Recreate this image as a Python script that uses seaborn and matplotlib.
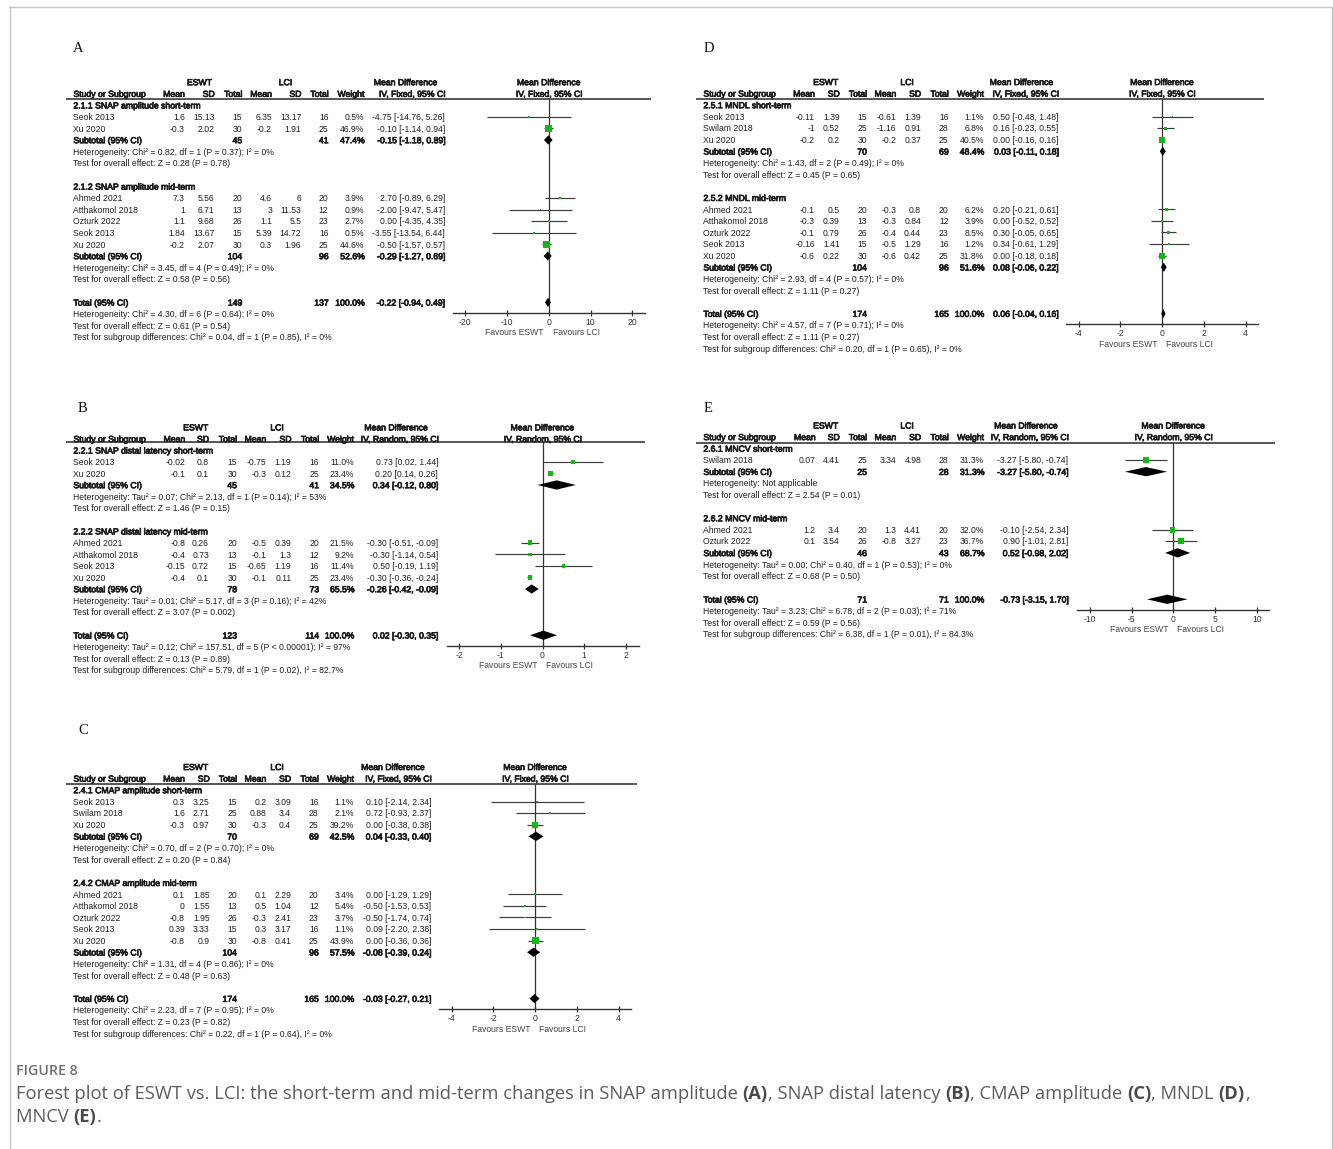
import matplotlib
matplotlib.use("Agg")
import matplotlib.pyplot as plt
import matplotlib.patheffects as pe
from matplotlib.lines import Line2D
import numpy as np
import seaborn as sns

# ---------------------------------------------------------------- data
# A: SNAP amplitude (IV, fixed)
A_groups = ["2.1.1 SNAP amplitude short-term", "2.1.2 SNAP amplitude mid-term"]
A_study = ["Seok 2013", "Xu 2020", "Ahmed 2021", "Atthakomol 2018", "Ozturk 2022", "Seok 2013", "Xu 2020"]
A_member = [0, 0, 1, 1, 1, 1, 1]
A_e_mean = [1.6, -0.3, 7.3, 1, 1.1, 1.84, -0.2]
A_e_sd = [15.13, 2.02, 5.56, 6.71, 9.68, 13.67, 2.07]
A_e_n = [15, 30, 20, 13, 26, 15, 30]
A_l_mean = [6.35, -0.2, 4.6, 3, 1.1, 5.39, 0.3]
A_l_sd = [13.17, 1.91, 6, 11.53, 5.5, 14.72, 1.96]
A_l_n = [16, 25, 20, 12, 23, 16, 25]
A_weight = [0.5, 46.9, 3.9, 0.9, 2.7, 0.5, 44.6]
A_md = [-4.75, -0.10, 2.70, -2.00, 0.00, -3.55, -0.50]
A_lo = [-14.76, -1.14, -0.89, -9.47, -4.35, -13.54, -1.57]
A_hi = [5.26, 0.94, 6.29, 5.47, 4.35, 6.44, 0.57]
A_sub_e_n = [45, 104]
A_sub_l_n = [41, 96]
A_sub_weight = [47.4, 52.6]
A_sub_md = [-0.15, -0.29]
A_sub_lo = [-1.18, -1.27]
A_sub_hi = [0.89, 0.69]
A_sub_het = ["Heterogeneity: Chi² = 0.82, df = 1 (P = 0.37); I² = 0%",
             "Heterogeneity: Chi² = 3.45, df = 4 (P = 0.49); I² = 0%"]
A_sub_z = ["Test for overall effect: Z = 0.28 (P = 0.78)",
           "Test for overall effect: Z = 0.58 (P = 0.56)"]
A_total = [149, 137, 100.0, -0.22, -0.94, 0.49]
A_notes = ["Heterogeneity: Chi² = 4.30, df = 6 (P = 0.64); I² = 0%",
           "Test for overall effect: Z = 0.61 (P = 0.54)",
           "Test for subgroup differences: Chi² = 0.04, df = 1 (P = 0.85), I² = 0%"]
A_ticks = [-20, -10, 0, 10, 20]

# B: SNAP distal latency (IV, random)
B_groups = ["2.2.1 SNAP distal latency short-term", "2.2.2 SNAP distal latency mid-term"]
B_study = ["Seok 2013", "Xu 2020", "Ahmed 2021", "Atthakomol 2018", "Seok 2013", "Xu 2020"]
B_member = [0, 0, 1, 1, 1, 1]
B_e_mean = [-0.02, -0.1, -0.8, -0.4, -0.15, -0.4]
B_e_sd = [0.8, 0.1, 0.26, 0.73, 0.72, 0.1]
B_e_n = [15, 30, 20, 13, 15, 30]
B_l_mean = [-0.75, -0.3, -0.5, -0.1, -0.65, -0.1]
B_l_sd = [1.19, 0.12, 0.39, 1.3, 1.19, 0.11]
B_l_n = [16, 25, 20, 12, 16, 25]
B_weight = [11.0, 23.4, 21.5, 9.2, 11.4, 23.4]
B_md = [0.73, 0.20, -0.30, -0.30, 0.50, -0.30]
B_lo = [0.02, 0.14, -0.51, -1.14, -0.19, -0.36]
B_hi = [1.44, 0.26, -0.09, 0.54, 1.19, -0.24]
B_sub_e_n = [45, 78]
B_sub_l_n = [41, 73]
B_sub_weight = [34.5, 65.5]
B_sub_md = [0.34, -0.26]
B_sub_lo = [-0.12, -0.42]
B_sub_hi = [0.80, -0.09]
B_sub_het = ["Heterogeneity: Tau² = 0.07; Chi² = 2.13, df = 1 (P = 0.14); I² = 53%",
             "Heterogeneity: Tau² = 0.01; Chi² = 5.17, df = 3 (P = 0.16); I² = 42%"]
B_sub_z = ["Test for overall effect: Z = 1.46 (P = 0.15)",
           "Test for overall effect: Z = 3.07 (P = 0.002)"]
B_total = [123, 114, 100.0, 0.02, -0.30, 0.35]
B_notes = ["Heterogeneity: Tau² = 0.12; Chi² = 157.51, df = 5 (P < 0.00001); I² = 97%",
           "Test for overall effect: Z = 0.13 (P = 0.89)",
           "Test for subgroup differences: Chi² = 5.79, df = 1 (P = 0.02), I² = 82.7%"]
B_ticks = [-2, -1, 0, 1, 2]

# C: CMAP amplitude (IV, fixed)
C_groups = ["2.4.1 CMAP amplitude short-term", "2.4.2 CMAP amplitude mid-term"]
C_study = ["Seok 2013", "Swilam 2018", "Xu 2020", "Ahmed 2021", "Atthakomol 2018", "Ozturk 2022", "Seok 2013", "Xu 2020"]
C_member = [0, 0, 0, 1, 1, 1, 1, 1]
C_e_mean = [0.3, 1.6, -0.3, 0.1, 0, -0.8, 0.39, -0.8]
C_e_sd = [3.25, 2.71, 0.97, 1.85, 1.55, 1.95, 3.33, 0.9]
C_e_n = [15, 25, 30, 20, 13, 26, 15, 30]
C_l_mean = [0.2, 0.88, -0.3, 0.1, 0.5, -0.3, 0.3, -0.8]
C_l_sd = [3.09, 3.4, 0.4, 2.29, 1.04, 2.41, 3.17, 0.41]
C_l_n = [16, 28, 25, 20, 12, 23, 16, 25]
C_weight = [1.1, 2.1, 39.2, 3.4, 5.4, 3.7, 1.1, 43.9]
C_md = [0.10, 0.72, 0.00, 0.00, -0.50, -0.50, 0.09, 0.00]
C_lo = [-2.14, -0.93, -0.38, -1.29, -1.53, -1.74, -2.20, -0.36]
C_hi = [2.34, 2.37, 0.38, 1.29, 0.53, 0.74, 2.38, 0.36]
C_sub_e_n = [70, 104]
C_sub_l_n = [69, 96]
C_sub_weight = [42.5, 57.5]
C_sub_md = [0.04, -0.08]
C_sub_lo = [-0.33, -0.39]
C_sub_hi = [0.40, 0.24]
C_sub_het = ["Heterogeneity: Chi² = 0.70, df = 2 (P = 0.70); I² = 0%",
             "Heterogeneity: Chi² = 1.31, df = 4 (P = 0.86); I² = 0%"]
C_sub_z = ["Test for overall effect: Z = 0.20 (P = 0.84)",
           "Test for overall effect: Z = 0.48 (P = 0.63)"]
C_total = [174, 165, 100.0, -0.03, -0.27, 0.21]
C_notes = ["Heterogeneity: Chi² = 2.23, df = 7 (P = 0.95); I² = 0%",
           "Test for overall effect: Z = 0.23 (P = 0.82)",
           "Test for subgroup differences: Chi² = 0.22, df = 1 (P = 0.64), I² = 0%"]
C_ticks = [-4, -2, 0, 2, 4]

# D: MNDL (IV, fixed)
D_groups = ["2.5.1 MNDL short-term", "2.5.2 MNDL mid-term"]
D_study = ["Seok 2013", "Swilam 2018", "Xu 2020", "Ahmed 2021", "Atthakomol 2018", "Ozturk 2022", "Seok 2013", "Xu 2020"]
D_member = [0, 0, 0, 1, 1, 1, 1, 1]
D_e_mean = [-0.11, -1, -0.2, -0.1, -0.3, -0.1, -0.16, -0.6]
D_e_sd = [1.39, 0.52, 0.2, 0.5, 0.39, 0.79, 1.41, 0.22]
D_e_n = [15, 25, 30, 20, 13, 26, 15, 30]
D_l_mean = [-0.61, -1.16, -0.2, -0.3, -0.3, -0.4, -0.5, -0.6]
D_l_sd = [1.39, 0.91, 0.37, 0.8, 0.84, 0.44, 1.29, 0.42]
D_l_n = [16, 28, 25, 20, 12, 23, 16, 25]
D_weight = [1.1, 6.8, 40.5, 6.2, 3.9, 8.5, 1.2, 31.8]
D_md = [0.50, 0.16, 0.00, 0.20, 0.00, 0.30, 0.34, 0.00]
D_lo = [-0.48, -0.23, -0.16, -0.21, -0.52, -0.05, -0.61, -0.18]
D_hi = [1.48, 0.55, 0.16, 0.61, 0.52, 0.65, 1.29, 0.18]
D_sub_e_n = [70, 104]
D_sub_l_n = [69, 96]
D_sub_weight = [48.4, 51.6]
D_sub_md = [0.03, 0.08]
D_sub_lo = [-0.11, -0.06]
D_sub_hi = [0.18, 0.22]
D_sub_het = ["Heterogeneity: Chi² = 1.43, df = 2 (P = 0.49); I² = 0%",
             "Heterogeneity: Chi² = 2.93, df = 4 (P = 0.57); I² = 0%"]
D_sub_z = ["Test for overall effect: Z = 0.45 (P = 0.65)",
           "Test for overall effect: Z = 1.11 (P = 0.27)"]
D_total = [174, 165, 100.0, 0.06, -0.04, 0.16]
D_notes = ["Heterogeneity: Chi² = 4.57, df = 7 (P = 0.71); I² = 0%",
           "Test for overall effect: Z = 1.11 (P = 0.27)",
           "Test for subgroup differences: Chi² = 0.20, df = 1 (P = 0.65), I² = 0%"]
D_ticks = [-4, -2, 0, 2, 4]

# E: MNCV (IV, random)
E_groups = ["2.6.1 MNCV short-term", "2.6.2 MNCV mid-term"]
E_study = ["Swilam 2018", "Ahmed 2021", "Ozturk 2022"]
E_member = [0, 1, 1]
E_e_mean = [0.07, 1.2, 0.1]
E_e_sd = [4.41, 3.4, 3.54]
E_e_n = [25, 20, 26]
E_l_mean = [3.34, 1.3, -0.8]
E_l_sd = [4.98, 4.41, 3.27]
E_l_n = [28, 20, 23]
E_weight = [31.3, 32.0, 36.7]
E_md = [-3.27, -0.10, 0.90]
E_lo = [-5.80, -2.54, -1.01]
E_hi = [-0.74, 2.34, 2.81]
E_sub_e_n = [25, 46]
E_sub_l_n = [28, 43]
E_sub_weight = [31.3, 68.7]
E_sub_md = [-3.27, 0.52]
E_sub_lo = [-5.80, -0.98]
E_sub_hi = [-0.74, 2.02]
E_sub_het = ["Heterogeneity: Not applicable",
             "Heterogeneity: Tau² = 0.00; Chi² = 0.40, df = 1 (P = 0.53); I² = 0%"]
E_sub_z = ["Test for overall effect: Z = 2.54 (P = 0.01)",
           "Test for overall effect: Z = 0.68 (P = 0.50)"]
E_total = [71, 71, 100.0, -0.73, -3.15, 1.70]
E_notes = ["Heterogeneity: Tau² = 3.23; Chi² = 6.78, df = 2 (P = 0.03); I² = 71%",
           "Test for overall effect: Z = 0.59 (P = 0.56)",
           "Test for subgroup differences: Chi² = 6.38, df = 1 (P = 0.01), I² = 84.3%"]
E_ticks = [-10, -5, 0, 5, 10]

FIXED = "IV, Fixed, 95% CI"
RANDOM = "IV, Random, 95% CI"

CAPTION_TITLE = "FIGURE 8"
CAPTION_LINES = [
    [("Forest plot of ESWT vs. LCI: the short-term and mid-term changes in SNAP amplitude ", False),
     ("(A)", True), (", SNAP distal latency ", False), ("(B)", True),
     (", CMAP amplitude ", False), ("(C)", True), (", MNDL ", False), ("(D)", True), (",", False)],
    [("MNCV ", False), ("(E)", True), (".", False)],
]

# ---------------------------------------------------------------- style
sns.set_theme(style="white")
plt.rcParams["font.family"] = ["Liberation Sans", "DejaVu Sans"]
plt.rcParams["axes.unicode_minus"] = False

W, H = 1333, 1149
fig = plt.figure(figsize=(W / 100, H / 100), dpi=100)
fig.patch.set_facecolor("white")

FS = 6.25
INK = "#1e1e1e"
GREEN = "#14b814"
HALF = 96  # half width of every plot strip, px
CAP_FONT = ["Open Sans", "DejaVu Sans"]


def fx(px):
    return px / W


def fy(py):
    return 1 - py / H


def put(x, y, s, ha="left", bold=False, color=INK, size=FS):
    t = fig.text(fx(x), fy(y + 3.2), s, ha=ha, va="baseline", fontsize=size,
                 color=color, family=["Liberation Sans", "DejaVu Sans"])
    if bold:
        t.set_path_effects([pe.withStroke(linewidth=0.55, foreground=color)])
    return t


def hline(x0, x1, y, color="#3a3a3a", lw=1.2):
    fig.add_artist(Line2D([fx(x0), fx(x1)], [fy(y), fy(y)], transform=fig.transFigure,
                          color=color, lw=lw, solid_capstyle="butt"))


def fmt(v):
    return f"{v:g}"


def ci_text(md, lo, hi):
    return f"{md:.2f} [{lo:.2f}, {hi:.2f}]"


def draw_panel(d, L):
    row0, step, x0, zero = L["row0"], L["step"], L["x0"], L["zero"]
    c = L["cols"]

    def ypx(i):
        return row0 + i * step

    fig.text(fx(L["letter"][0]), fy(L["letter"][1] + 5), d["letter"], ha="left", va="baseline",
             fontsize=10.5, color="#111111", family=["Liberation Serif", "DejaVu Serif"])

    # column headers
    h1, h2 = ypx(-2), ypx(-1)
    put(L["hdr"][0], h1, "ESWT", "center", True)
    put(L["hdr"][1], h1, "LCI", "center", True)
    put(L["hdr"][2], h1, "Mean Difference", "center", True)
    put(zero, h1, "Mean Difference", "center", True)
    put(x0, h2, "Study or Subgroup", bold=True)
    for key, lab in [("e_mean", "Mean"), ("e_sd", "SD"), ("e_n", "Total"), ("l_mean", "Mean"),
                     ("l_sd", "SD"), ("l_n", "Total"), ("wt", "Weight")]:
        put(c[key], h2, lab, "right", True)
    put(c["md"], h2, d["method"], "right", True)
    put(zero, h2, d["method"], "center", True)
    hline(x0 - 7, zero + HALF + 6, L["line_y"])

    idx = 0
    sq_x, sq_y, sq_s, ci_rows, diamonds = [], [], [], [], []
    for g, title in enumerate(d["groups"]):
        put(x0, ypx(idx), title, bold=True)
        idx += 1
        for k in range(len(d["study"])):
            if d["member"][k] != g:
                continue
            y = ypx(idx)
            put(x0, y, d["study"][k])
            put(c["e_mean"], y, fmt(d["e_mean"][k]), "right")
            put(c["e_sd"], y, fmt(d["e_sd"][k]), "right")
            put(c["e_n"], y, str(d["e_n"][k]), "right")
            put(c["l_mean"], y, fmt(d["l_mean"][k]), "right")
            put(c["l_sd"], y, fmt(d["l_sd"][k]), "right")
            put(c["l_n"], y, str(d["l_n"][k]), "right")
            put(c["wt"], y, f"{d['weight'][k]:.1f}%", "right")
            put(c["md"], y, ci_text(d["md"][k], d["lo"][k], d["hi"][k]), "right")
            side = max(1.6, 7.0 * np.sqrt(d["weight"][k] / 47.0))
            sq_x.append(d["md"][k])
            sq_y.append(idx)
            sq_s.append((side * 0.72) ** 2)
            ci_rows.append((idx, d["lo"][k], d["hi"][k]))
            idx += 1
        y = ypx(idx)
        put(x0, y, "Subtotal (95% CI)", bold=True)
        put(c["e_n"], y, str(d["sub_e_n"][g]), "right", True)
        put(c["l_n"], y, str(d["sub_l_n"][g]), "right", True)
        put(c["wt"], y, f"{d['sub_weight'][g]:.1f}%", "right", True)
        put(c["md"], y, ci_text(d["sub_md"][g], d["sub_lo"][g], d["sub_hi"][g]), "right", True)
        diamonds.append((idx, d["sub_md"][g], d["sub_lo"][g], d["sub_hi"][g]))
        idx += 1
        put(x0, ypx(idx), d["sub_het"][g])
        idx += 1
        put(x0, ypx(idx), d["sub_z"][g])
        idx += 2

    te, tl, tw, tmd, tlo, thi = d["total"]
    y = ypx(idx)
    put(x0, y, "Total (95% CI)", bold=True)
    put(c["e_n"], y, str(te), "right", True)
    put(c["l_n"], y, str(tl), "right", True)
    put(c["wt"], y, f"{tw:.1f}%", "right", True)
    put(c["md"], y, ci_text(tmd, tlo, thi), "right", True)
    diamonds.append((idx, tmd, tlo, thi))
    total_idx = idx
    for note in d["notes"]:
        idx += 1
        put(x0, ypx(idx), note)

    # forest strip
    axis_y = ypx(total_idx) + 10.8
    ax = fig.add_axes([fx(zero - HALF), fy(axis_y), 2 * HALF / W, (axis_y - L["line_y"]) / H])
    ax.patch.set_alpha(0)
    tmax = d["ticks"][-1]
    ax.set_xlim(-1.15 * tmax, 1.15 * tmax)
    ax.set_ylim((axis_y - row0) / step, (L["line_y"] - row0) / step)
    for side_name in ["top", "right", "left"]:
        ax.spines[side_name].set_visible(False)
    ax.spines["bottom"].set_color("#333333")
    ax.spines["bottom"].set_linewidth(1.0)
    ax.set_xticks(d["ticks"])
    ax.set_xticklabels([fmt(t) for t in d["ticks"]])
    ax.set_yticks([])
    ax.tick_params(axis="x", direction="inout", length=5, width=0.9, color="#333333",
                   labelsize=FS, labelcolor="#333333", pad=1.0, bottom=True)
    ax.axvline(0, color="#333333", lw=0.9, zorder=1)
    ax.hlines([r[0] for r in ci_rows], [r[1] for r in ci_rows], [r[2] for r in ci_rows],
              color="#3c3c3c", lw=0.85, zorder=2)
    sns.scatterplot(x=sq_x, y=sq_y, s=sq_s, marker="s", color=GREEN, linewidth=0,
                    ax=ax, legend=False, zorder=3)
    for r, md, lo, hi in diamonds:
        ax.fill([lo, md, hi, md], [r, r - 0.4, r, r + 0.4], color="black", lw=0, zorder=4)
    ax.set_xlabel("")
    ax.set_ylabel("")

    fig.text(fx(zero - 5), fy(axis_y + 19 + 3.2), "Favours ESWT", ha="right", va="baseline",
             fontsize=FS, color="#444444")
    fig.text(fx(zero + 4), fy(axis_y + 19 + 3.2), "Favours LCI", ha="left", va="baseline",
             fontsize=FS, color="#444444")


def pack(prefix, letter, method):
    g = globals()
    keys = ["groups", "study", "member", "e_mean", "e_sd", "e_n", "l_mean", "l_sd", "l_n",
            "weight", "md", "lo", "hi", "sub_e_n", "sub_l_n", "sub_weight", "sub_md", "sub_lo",
            "sub_hi", "sub_het", "sub_z", "total", "notes", "ticks"]
    d = {k: g[f"{prefix}_{k}"] for k in keys}
    d["letter"] = letter
    d["method"] = method
    return d


def cols(*v):
    return dict(zip(["e_mean", "e_sd", "e_n", "l_mean", "l_sd", "l_n", "wt", "md"], v))


layouts = {
    "A": dict(letter=(73, 47), x0=73.4, row0=105.2, step=11.6, line_y=98.5, zero=548.9,
              cols=cols(184.9, 214.7, 242.2, 272.0, 301.4, 328.5, 364.5, 445.0),
              hdr=(199.4, 285.4, 405.7)),
    "B": dict(letter=(78, 407), x0=73.4, row0=450.3, step=11.56, line_y=442.3, zero=542.5,
              cols=cols(185.3, 209.0, 236.9, 266.3, 291.5, 319.0, 354.1, 438.2),
              hdr=(195.6, 277.0, 396.2)),
    "C": dict(letter=(78, 729), x0=73.4, row0=790.0, step=11.59, line_y=783.7, zero=535.2,
              cols=cols(184.9, 209.7, 236.9, 266.3, 291.1, 318.6, 354.1, 431.3),
              hdr=(195.6, 277.0, 393.1)),
    "D": dict(letter=(704, 47), x0=703.4, row0=105.0, step=11.59, line_y=98.5, zero=1162.1,
              cols=cols(814.9, 839.7, 866.9, 896.3, 921.1, 948.6, 984.1, 1058.6),
              hdr=(825.6, 907.0, 1021.6)),
    "E": dict(letter=(704, 407), x0=703.4, row0=448.5, step=11.6, line_y=442.7, zero=1173.3,
              cols=cols(815.7, 839.7, 866.9, 896.3, 921.1, 948.6, 984.1, 1068.2),
              hdr=(825.6, 907.0, 1026.1)),
}

draw_panel(pack("A", "A", FIXED), layouts["A"])
draw_panel(pack("B", "B", RANDOM), layouts["B"])
draw_panel(pack("C", "C", FIXED), layouts["C"])
draw_panel(pack("D", "D", FIXED), layouts["D"])
draw_panel(pack("E", "E", RANDOM), layouts["E"])

# ---------------------------------------------------------------- frame and caption
frame = "#c4c4c4"
fig.add_artist(Line2D([fx(9), fx(1332)], [fy(7), fy(7)], transform=fig.transFigure, color=frame, lw=1.0))
fig.add_artist(Line2D([fx(9.5), fx(9.5)], [fy(7), fy(H)], transform=fig.transFigure, color=frame, lw=1.0))
fig.add_artist(Line2D([fx(1331.5), fx(1331.5)], [fy(7), fy(H)], transform=fig.transFigure, color=frame, lw=1.0))

CAP_X = 16
fig.text(fx(CAP_X), fy(1070 + 5), CAPTION_TITLE, ha="left", va="baseline", family=CAP_FONT,
         fontsize=10.2, fontweight="semibold", color="#6e6e6e")

renderer = fig.canvas.get_renderer()


def width_px(s, **kw):
    t = fig.text(0, 0, "|" + s + "|", **kw)
    w1 = t.get_window_extent(renderer).width
    t.remove()
    t = fig.text(0, 0, "||", **kw)
    w0 = t.get_window_extent(renderer).width
    t.remove()
    return w1 - w0


CAP_FS = 13.2
for line_parts, ly in zip(CAPTION_LINES, [1093, 1116]):
    x = CAP_X
    for s, bold in line_parts:
        kw = dict(family=CAP_FONT, fontsize=CAP_FS, fontweight="bold" if bold else "normal",
                  color="#4a4a4a" if bold else "#5c5c5c")
        fig.text(fx(x), fy(ly + 6.3), s, ha="left", va="baseline", **kw)
        x += width_px(s, **kw)

fig.savefig("out.png", dpi=100, facecolor="white")
